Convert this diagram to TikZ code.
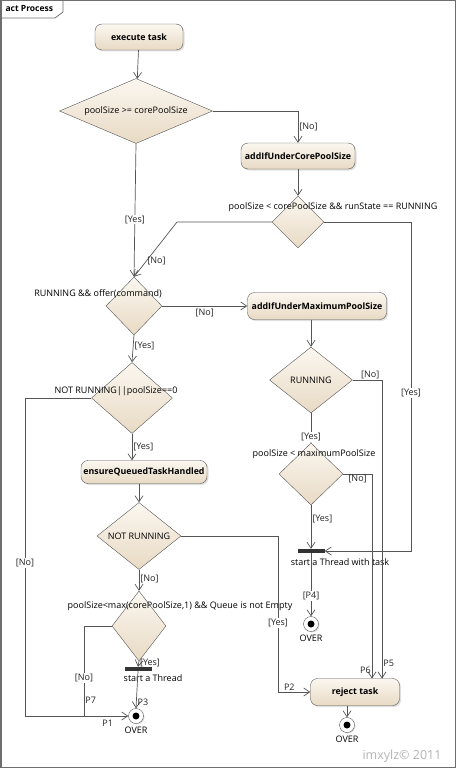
\documentclass[tikz,border=0pt]{standalone}
\usepackage{fontspec}
\setmainfont{Open Sans}
\usetikzlibrary{shapes.geometric,arrows.meta,shadows}
\definecolor{edgegray}{HTML}{555555}
\definecolor{boxtop}{HTML}{FBF7F0}
\definecolor{boxbottom}{HTML}{E8DAC4}
\definecolor{forkgray}{HTML}{333333}
\definecolor{textgray}{HTML}{222222}
\definecolor{framegray}{HTML}{6E6E6E}

\begin{document}
\begin{tikzpicture}[x=1pt, y=-1pt, font=\fontsize{9}{10.8}\selectfont, >={Straight Barb[length=6pt,width=8pt]}]
        \tikzstyle{action}=[draw=edgegray, rounded corners=7pt, top color=boxtop, bottom color=boxbottom, minimum height=26pt, inner sep=1pt, font=\fontsize{8.8}{10.5}\selectfont\bfseries, drop shadow={opacity=0.25, shadow xshift=1.5pt, shadow yshift=-1.5pt}]
        \tikzstyle{decision}=[diamond, draw=edgegray, top color=boxtop, bottom color=boxbottom, inner sep=0pt]
        \tikzstyle{forkbar}=[rectangle, fill=forkgray, minimum width=27pt, minimum height=4pt, inner sep=0pt]
        \tikzstyle{final}=[circle, draw=edgegray, fill=white, minimum size=15pt, inner sep=0pt, path picture={\fill[black] (path picture bounding box.center) circle (3.5pt);}, drop shadow={opacity=0.25, shadow xshift=1pt, shadow yshift=-1pt}]
        \tikzstyle{flow}=[draw=edgegray, line width=0.7pt, ->]
        \tikzstyle{guard}=[inner sep=1pt, text=textgray]
        \tikzstyle{onlabel}=[guard, fill=white]

        \useasboundingbox (0, 0) rectangle (456, 768);
        \draw [framegray, line width=1.5pt] (0.75, 0.75) rectangle (455.25, 767.25);
        \draw [framegray, line width=0.8pt] (0.75, 18) -- (55, 18) -- (63, 12) -- (63, 0.75);
        \draw node at (2, 9) [anchor=west, font=\fontsize{8.5}{10}\selectfont\bfseries] (title) {act Process};

        \draw node at (139, 37) [action, minimum width=88pt] (exec) {execute task};
        \draw node at (136, 111) [decision, minimum width=153pt, minimum height=65pt, label=center:{poolSize >= corePoolSize}] (testcore) {};
        \draw node at (298, 156) [action, minimum width=114pt] (addcore) {addIfUnderCorePoolSize};
        \draw node at (298, 222) [decision, minimum width=52pt, minimum height=52pt, label={[xshift=35pt, yshift=15pt]center:poolSize < corePoolSize \&\& runState == RUNNING}] (testrun) {};
        \draw node at (134, 306) [decision, minimum width=56pt, minimum height=58pt, label={[xshift=-36pt, yshift=12pt]center:RUNNING \&\& offer(command)}] (testoffer) {};
        \draw node at (317, 306) [action, minimum width=139pt, minimum height=27pt] (addmax) {addIfUnderMaximumPoolSize};
        \draw node at (311, 380) [decision, minimum width=83pt, minimum height=66pt, label=center:RUNNING] (testrunning) {};
        \draw node at (311, 474) [decision, minimum width=64pt, minimum height=62pt, label={[xshift=3pt, yshift=20pt]center:poolSize < maximumPoolSize}] (testmax) {};
        \draw node at (311, 551) [forkbar, label={[xshift=29pt, label distance=2pt]below:start a Thread with task}] (forktask) {};
        \draw node at (311, 624) [final, label=below:OVER] (endtask) {};
        \draw node at (132, 398) [decision, minimum width=81pt, minimum height=71pt, label={[xshift=-16pt, yshift=7pt]center:NOT RUNNING||poolSize==0}] (testzero) {};
        \draw node at (144, 472) [action, minimum width=126pt, minimum height=23pt] (ensure) {ensureQueuedTaskHandled};
        \draw node at (139, 536) [decision, minimum width=84pt, minimum height=67pt, label=center:NOT RUNNING] (testnot) {};
        \draw node at (139, 626) [decision, minimum width=54pt, minimum height=70pt, label={[xshift=41pt, yshift=20pt]center:poolSize<max(corePoolSize,1) \&\& Queue is not Empty}] (testqueue) {};
        \draw node at (138, 669) [forkbar, label={[xshift=15pt]below:start a Thread}] (forkthread) {};
        \draw node at (136, 716) [final, label=below:OVER] (endthread) {};
        \draw node at (355, 692) [action, minimum width=89pt, minimum height=27pt] (reject) {reject task};
        \draw node at (347, 725) [final, label=below:OVER] (endreject) {};

        \coordinate (bendno) at (177, 222);
        \coordinate (yesright) at (411, 551);
        \coordinate (norun) at (382, 678.5);
        \coordinate (nomax) at (372, 678.5);
        \coordinate (yesnot) at (278, 692);
        \coordinate (noleft) at (25, 716);
        \coordinate (nojoin) at (84, 716);

        \draw [flow] (exec) -- (testcore);
        \draw [flow] (testcore.east) -| node [guard, pos=0.75, right] {[No]} (addcore.north);
        \draw [flow] (addcore) -- (testrun);
        \draw [flow] (testrun.west) -- (bendno) -- node [guard, pos=0.72, right] {[No]} (testoffer.north);
        \draw [flow] (testrun.east) -| node [onlabel, pos=0.76] {[Yes]} (yesright) -- (forktask.east);
        \draw [flow] (testcore.south) -- node [onlabel, pos=0.57] {[Yes]} (testoffer.north);
        \draw [flow] (testoffer.east) -- node [guard, midway, below=2pt] {[No]} (addmax.west);
        \draw [flow] (testrunning.north |- addmax.south) -- (testrunning.north);
        \draw [flow] (testrunning.east) -| node [guard, pos=0.3, above] {[No]} node [guard, pos=0.975, right] {P5} (norun);
        \draw [flow] (testrunning.south) -- node [onlabel, pos=0.8] {[Yes]} (testmax.north);
        \draw [flow] (testmax.east) -| node [guard, pos=0.25, below] {[No]} node [guard, pos=0.98, left] {P6} (nomax);
        \draw [flow] (testmax.south) -- node [guard, pos=0.32, right] {[Yes]} (forktask.north);
        \draw [flow] (forktask.south) -- node [onlabel, pos=0.68] {[P4]} (endtask.north);
        \draw [flow] (testoffer.south) -- node [guard, pos=0.4, right] {[Yes]} (testzero.north);
        \draw [flow] (testzero.west) -| node [onlabel, pos=0.76] {[No]} (noleft) -- node [guard, pos=0.8, below=3pt] {P1} (endthread.west);
        \draw [flow] (testzero.south) -- node [guard, midway, right] {[Yes]} (testzero.south |- ensure.north);
        \draw [flow] (testnot.north |- ensure.south) -- (testnot.north);
        \draw [flow] (testnot.east) -| node [onlabel, pos=0.78] {[Yes]} (yesnot) -- node [guard, pos=0.35, above] {P2} (reject.west);
        \draw [flow] (testnot.south) -- node [guard, pos=0.45, right] {[No]} (testqueue.north);
        \draw [draw=edgegray, line width=0.7pt] (testqueue.west) -| node [onlabel, pos=0.79] {[No]} node [guard, pos=0.91, right] {P7} (nojoin);
        \draw [flow] (testqueue.south) -- node [guard, pos=0.3, right] {[Yes]} (forkthread.north);
        \draw [flow] (forkthread.south) -- node [guard, pos=0.85, right] {P3} (endthread.north);
        \draw [flow] (endreject.north |- reject.south) -- (endreject.north);

        \draw node at (402, 756) [text=gray!60, font=\fontsize{12.5}{15}\selectfont] (stamp) {imxylz© 2011};
\end{tikzpicture}
\end{document}
